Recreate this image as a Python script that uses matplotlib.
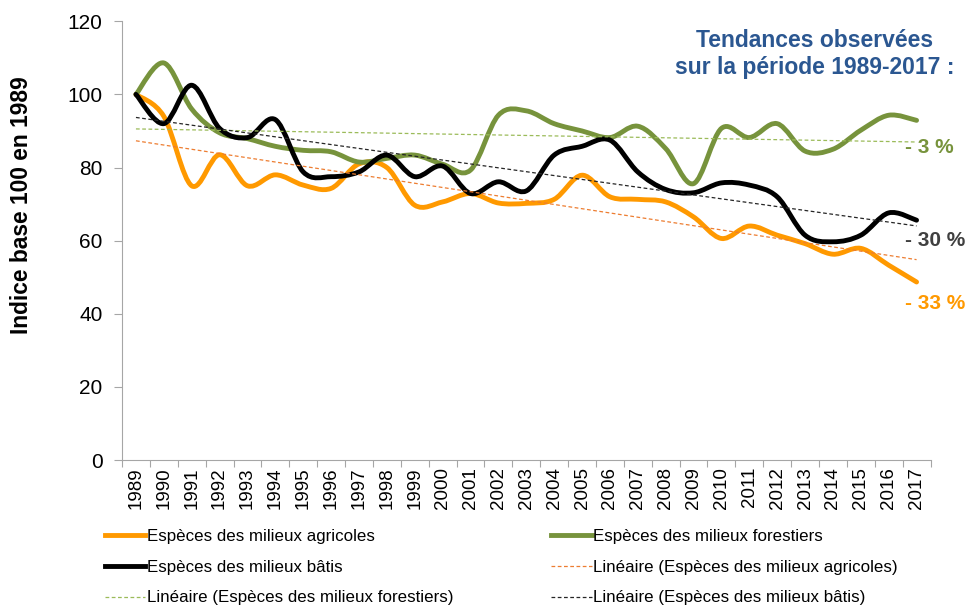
import numpy as np
import matplotlib
matplotlib.use("Agg")
import matplotlib.pyplot as plt
from matplotlib.path import Path
from matplotlib.patches import PathPatch
from matplotlib.lines import Line2D

plt.rcParams['font.family'] = ['Liberation Sans', 'DejaVu Sans']

years = list(range(1989, 2018))
agricoles = [100, 94, 75, 83.5, 75, 78, 75.2, 74.3, 81, 80,
             69.7, 70.6, 72.9, 70.3, 70.2, 71.3, 77.9, 72, 71.3, 70.6,
             66.5, 60.6, 64, 61.5, 59.2, 56.3, 57.9, 53.3, 48.7]
forestiers = [100, 108.6, 96, 89.5, 87.9, 85.8, 84.7, 84.3, 81.5, 82.5,
              83.4, 80.9, 79.3, 94.3, 95.5, 92, 90, 88.2, 91.3, 85.2,
              75.6, 90.7, 88.2, 92, 84.5, 85, 90.2, 94.3, 92.9]
batis = [100, 92, 102.5, 90.7, 88.2, 93.1, 78.8, 77.5, 78.8, 83.4,
         77.5, 80.4, 72.9, 76.1, 73.6, 83.4, 85.8, 87.5, 78.8, 74,
         73.1, 75.8, 75.2, 72, 61.5, 59.7, 61.5, 67.6, 65.6]

names = ["Espèces des milieux agricoles", "Espèces des milieux forestiers",
         "Espèces des milieux bâtis"]
colors = ["#FF9900", "#77933C", "#000000"]
trend_colors = ["#ED7D31", "#9BBB59", "#262626"]
labels_pct = ["- 33 %", "- 3 %", "- 30 %"]
label_colors = ["#FF9900", "#77933C", "#404040"]


def smooth_path(x, y):
    # Excel-like smoothed line: Catmull-Rom segments as cubic Beziers
    pts = np.column_stack([x, y]).astype(float)
    verts = [pts[0]]
    codes = [Path.MOVETO]
    n = len(pts)
    for i in range(n - 1):
        p0 = pts[i - 1] if i > 0 else pts[i]
        p1 = pts[i]
        p2 = pts[i + 1]
        p3 = pts[i + 2] if i + 2 < n else pts[i + 1]
        c1 = p1 + (p2 - p0) / 6
        c2 = p2 - (p3 - p1) / 6
        verts += [c1, c2, p2]
        codes += [Path.CURVE4] * 3
    return Path(verts, codes)


fig = plt.figure(figsize=(9.8, 6.07), dpi=100)
ax = fig.add_axes([0.1245, 0.242, 0.825, 0.723])

x = np.arange(len(years))
series = [agricoles, forestiers, batis]

handles = []
trend_handles = []
for vals, name, c, tc in zip(series, names, colors, trend_colors):
    patch = PathPatch(smooth_path(x, vals), facecolor="none", edgecolor=c,
                      lw=3.5, capstyle="round", joinstyle="round",
                      transform=ax.transData, zorder=3)
    ax.add_patch(patch)
    handles.append(Line2D([], [], color=c, lw=3.5, label=name))
    coef = np.polyfit(x, vals, 1)
    ax.plot(x, np.polyval(coef, x), ls=(0, (3, 2)), color=tc, lw=0.9, zorder=4)
    trend_handles.append(Line2D([], [], color=tc, lw=0.9, ls=(0, (3, 2)),
                                label="Linéaire (" + name + ")"))

ax.set_xlim(-0.5, len(years) - 0.5)
ax.set_ylim(0, 120)
ax.set_yticks(range(0, 121, 20))
ax.tick_params(axis="y", labelsize=15, length=6, color="#A6A6A6", pad=8)
ax.set_xticks(np.arange(-0.5, len(years), 1))
ax.set_xticklabels([])
ax.set_xticks(x, minor=True)
ax.set_xticklabels([str(y) for y in years], minor=True, rotation=90, fontsize=13.5)
ax.tick_params(axis="x", which="major", length=5, color="#A6A6A6")
ax.tick_params(axis="x", which="minor", length=0, pad=5)
for s in ["top", "right"]:
    ax.spines[s].set_visible(False)
for s in ["left", "bottom"]:
    ax.spines[s].set_color("#A6A6A6")

fig.text(0.022, 0.662, "Indice base 100 en 1989", rotation=90, fontsize=16.4,
         fontweight="bold", ha="center", va="center")

fig.text(0.831, 0.911, "Tendances observées\nsur la période 1989-2017 :",
         fontsize=16.5, fontweight="bold", color="#2B5791", ha="center",
         va="center", linespacing=1.2)

for lbl, c, ypos in zip(labels_pct, label_colors, [0.5, 0.757, 0.604]):
    fig.text(0.923, ypos, lbl, fontsize=15, fontweight="bold", color=c,
             ha="left", va="center")

order = [handles[0], handles[2], trend_handles[1],
         handles[1], trend_handles[0], trend_handles[2]]
fig.legend(handles=order, ncol=2, loc="upper left", bbox_to_anchor=(0.107, 0.128),
           frameon=False, fontsize=12.2, handlelength=2.37, handletextpad=0.1,
           columnspacing=5.8, labelspacing=0.92, borderaxespad=0, borderpad=0)

fig.savefig("out.png", dpi=100)
